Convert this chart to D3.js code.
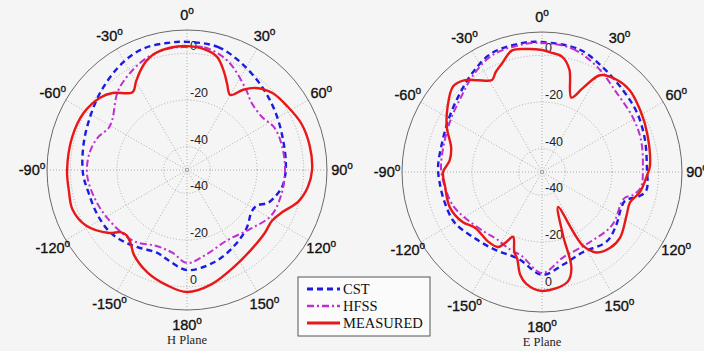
<!DOCTYPE html>
<html>
<head>
<meta charset="utf-8">
<script src="https://cdnjs.cloudflare.com/ajax/libs/d3/7.8.5/d3.min.js"></script>
<style>
  body { margin: 0; background: #f5f5f5; }
  svg { display: block; }
</style>
</head>
<body>
<div id="chart"></div>
<script>
// angle (deg, 0 = top, clockwise) , level (dB)
const angleTicks = [0, 30, 60, 90, 120, 150, 180, -150, -120, -90, -60, -30];
const ringTicks = [-40, -20, 0];
const seriesNames = ["CST", "HFSS", "MEASURED"];

const hCst = [[0,4.9],[14,4.4],[27,1.4],[42,-2],[56,-4.6],[71,-6.7],[88,-7.6],[99,-8.4],[105,-10],[112,-12.5],[117,-16.4],
  [123,-17],[134,-14.4],[147,-11.9],[163,-8.9],[180,-7.1],[-168,-10.6],[-160,-12.3],[-149,-11],[-140,-9.3],[-129,-7.6],
  [-117,-7.1],[-103,-6.7],[-92,-5.4],[-77,-4.4],[-63,-2.9],[-47,0.1],[-31,3.6],[-20,5.3],[-9,5.1]];
const hHfss = [[0,2.7],[8,3.1],[20,0.1],[35,-6.7],[44,-10.1],[55,-10.6],[64,-8.4],[76,-8],[90,-8],[103,-8.2],[118,-8.9],
  [132,-12.7],[150,-15.3],[168,-12.7],[180,-10.1],[-170,-14],[-158,-14.9],[-143,-11.9],[-121,-10.1],[-105,-8.4],[-92,-7.1],
  [-80,-7.6],[-70,-9.3],[-62,-11.9],[-56,-11.4],[-41,-5],[-28,-1.1],[-18,1.4],[-8,2.7]];
const hMeas = [[0,3.1],[8,2.3],[15,0.1],[21,-5.4],[25,-9.3],[30,-12.9],[35,-8],[40,-4.1],[48,-0.7],[58,1],[68,2.9],[79,3.6],
  [90,3.6],[98,2.3],[106,-0.5],[114,-5.4],[121,-7.6],[129,-7.1],[140,-6.3],[153,-4.1],[168,0.1],[180,2.3],[-170,0.1],
  [-159,-2.9],[-148,-7.1],[-142,-10.6],[-137,-11.9],[-133,-11],[-129,-7.1],[-119,-0.7],[-109,1.9],[-100,1.4],[-90,1.4],
  [-74,1.2],[-61,0.6],[-50,-1.6],[-44,-4.1],[-35,-9.3],[-30,-6.3],[-25,-2.9],[-20,0.1],[-15,1.9],[-8,2.9]];

const eCst = [[0,5.7],[17,4.9],[30,1.9],[45,-0.7],[58,-2],[72,-3.7],[87,-5],[100,-4.6],[104,-7.1],[109,-12.3],[115,-12.7],
  [125,-11],[137,-9.3],[153,-11.4],[167,-9.3],[180,-5.9],[-165,-11.4],[-148,-11],[-133,-9.3],[-120,-6.7],[-107,-6.3],
  [-96,-5.9],[-87,-5.4],[-74,-5.4],[-61,-4.1],[-48,-1.7],[-35,1.9],[-23,5.3],[-9,5.9]];
const eHfss = [[0,5.3],[14,4.4],[28,0.8],[43,-3.3],[59,-4.6],[72,-5.4],[87,-6.7],[99,-7.1],[104,-9.7],[108,-13.1],[127,-12.3],
  [146,-13.6],[166,-12.3],[180,-6.7],[-166,-13.1],[-158,-14],[-146,-15.3],[-136,-14.4],[-120,-11.4],[-111,-9.3],[-100,-8],
  [-88,-6.7],[-74,-6.3],[-61,-5],[-48,-2.9],[-35,1],[-23,4.4],[-9,5.3]];
const eMeas = [[0,2.3],[4,1.4],[10,0.1],[15,-4.6],[21.5,-15.7],[26,-9.9],[31,-1.6],[39,0.9],[47,1.4],[58,-0.3],[70,-2],
  [87,-3.7],[92,-5],[101.5,-7.1],[109,-10.1],[117,-9.3],[130,-6.3],[138,-6.3],[146,-8.4],[151,-14],[155.4,-33.5],
  [161.6,-21.7],[163,-6.9],[167,-1.6],[180,1],[-172,-1.6],[-168,-5],[-164,-11.4],[-161,-13.6],[-156,-19.6],[-152.5,-15.7],
  [-149.6,-12.7],[-142,-12.3],[-130,-12.7],[-122,-9.7],[-111,-7.7],[-98,-8],[-90,-7.6],[-83,-10.1],[-75,-9.7],[-65,-5],
  [-56,-1.1],[-46,2.9],[-40,1.4],[-35,-2],[-28.5,-5.1],[-25,-2.9],[-20,-0.3],[-14,3.6],[-7,3.1]];

const width = 704, height = 351;
const outerR = 140;

const svg = d3.select("#chart").append("svg")
    .attr("width", width)
    .attr("height", height);

svg.append("rect").attr("width", width).attr("height", height).attr("fill", "#f5f5f5");

const r = d3.scaleLinear().domain([-50, 10]).range([0, outerR]);

const color = d3.scaleOrdinal().domain(seriesNames).range(["#1c1ce0", "#bf2fcf", "#e81818"]);
const dash = d3.scaleOrdinal().domain(seriesNames).range(["6,4", "7,3,2,3", null]);
const lineW = d3.scaleOrdinal().domain(seriesNames).range([2.4, 2, 2.4]);

let toRad = d => d * Math.PI / 180;

let drawPolar = (cx, cy, series, title) => {
    const g = svg.append("g").attr("transform", "translate(" + cx + "," + cy + ")");

    // rings
    g.selectAll(".ring")
        .data(ringTicks)
        .enter().append("circle")
        .attr("r", d => r(d))
        .attr("fill", "none")
        .attr("stroke", "#9a9a9a")
        .attr("stroke-width", 0.8)
        .attr("stroke-dasharray", "1,2");
    g.append("circle").attr("r", 1.8).attr("fill", "none").attr("stroke", "#999").attr("stroke-width", 0.8);

    // spokes
    g.selectAll(".spoke")
        .data(angleTicks.filter(a => a >= 0 && a < 180))
        .enter().append("line")
        .attr("x1", d => -outerR * Math.sin(toRad(d)))
        .attr("y1", d => outerR * Math.cos(toRad(d)))
        .attr("x2", d => outerR * Math.sin(toRad(d)))
        .attr("y2", d => -outerR * Math.cos(toRad(d)))
        .attr("stroke", "#9a9a9a")
        .attr("stroke-width", 0.8)
        .attr("stroke-dasharray", "1,2");

    g.append("circle")
        .attr("r", outerR)
        .attr("fill", "none")
        .attr("stroke", "#6a6a6a")
        .attr("stroke-width", 1);

    // ring labels, above and below the centre
    [-1, 1].forEach(side => {
        g.selectAll(null)
            .data(ringTicks)
            .enter().append("text")
            .attr("x", 3)
            .attr("y", d => side * r(d) - 3)
            .style("font-family", "Liberation Sans, Arial, sans-serif")
            .style("font-size", "12.5px")
            .attr("fill", "#222")
            .text(d => d);
    });

    // curves
    const line = d3.lineRadial()
        .angle(d => toRad(d[0]))
        .radius(d => r(d[1]))
        .curve(d3.curveCatmullRomClosed.alpha(0.5));

    series.forEach((s, i) => {
        const pts = s.slice().sort((a, b) => ((a[0] + 360) % 360) - ((b[0] + 360) % 360));
        g.append("path")
            .attr("d", line(pts))
            .attr("fill", "none")
            .attr("stroke", color(seriesNames[i]))
            .attr("stroke-width", lineW(seriesNames[i]))
            .attr("stroke-dasharray", dash(seriesNames[i]));
    });

    // angle labels
    const lab = g.selectAll(".alab")
        .data(angleTicks)
        .enter().append("text")
        .attr("x", d => 155 * Math.sin(toRad(d)))
        .attr("y", d => -155 * Math.cos(toRad(d)) + 5)
        .attr("text-anchor", "middle")
        .style("font-family", "Liberation Sans, Arial, sans-serif")
        .style("font-size", "14.5px")
        .attr("fill", "#111")
        .attr("stroke", "#111")
        .attr("stroke-width", 0.35);
    lab.append("tspan").text(d => d);
    lab.append("tspan").attr("dy", -6).style("font-size", "10px").text("o");

    g.append("text")
        .attr("x", 0)
        .attr("y", 174)
        .attr("text-anchor", "middle")
        .style("font-family", "Liberation Serif, Times New Roman, serif")
        .style("font-size", "12.5px")
        .attr("fill", "#222")
        .text(title);
};

drawPolar(187, 170, [hCst, hHfss, hMeas], "H Plane");
drawPolar(542, 172, [eCst, eHfss, eMeas], "E Plane");

// legend
const legend = svg.append("g").attr("transform", "translate(298,277)");
legend.append("rect")
    .attr("width", 132).attr("height", 59)
    .attr("fill", "#fbfbfb")
    .attr("stroke", "#555")
    .attr("stroke-width", 1);
seriesNames.forEach((name, i) => {
    const y = 12 + i * 17;
    legend.append("line")
        .attr("x1", 9).attr("x2", 42).attr("y1", y).attr("y2", y)
        .attr("stroke", color(name))
        .attr("stroke-width", lineW(name) + 0.4)
        .attr("stroke-dasharray", dash(name));
    legend.append("text")
        .attr("x", 45).attr("y", y + 5)
        .style("font-family", "Liberation Serif, Times New Roman, serif")
        .style("font-size", "14.5px")
        .attr("fill", "#111")
        .text(name);
});
</script>
</body>
</html>
